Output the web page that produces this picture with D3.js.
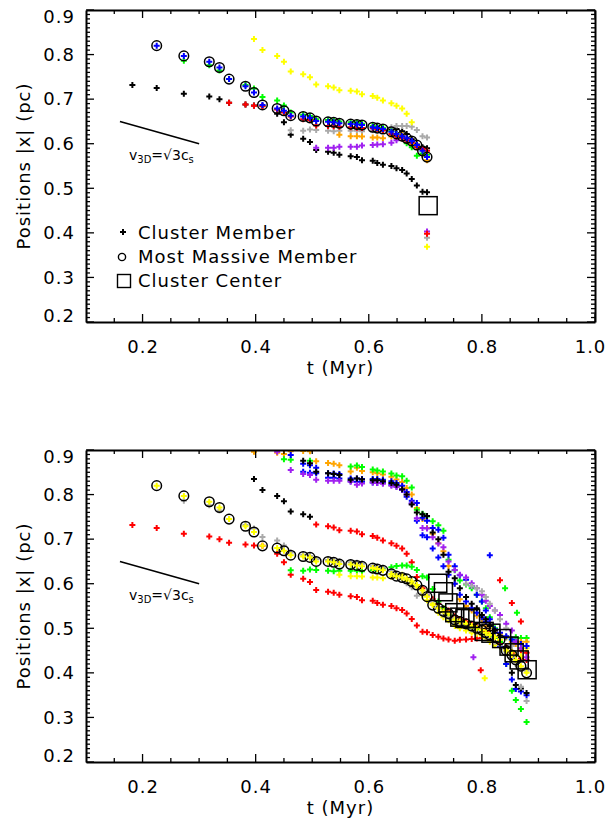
<!DOCTYPE html>
<html>
<head>
<meta charset="utf-8">
<script src="https://d3js.org/d3.v7.min.js"></script>
<style>
  body { margin: 0; background: #fff; }
  text { font-family: "DejaVu Sans", sans-serif; fill: #000; }
  .axis text { font-size: 18px; letter-spacing: 1px; }
  .axis .domain { stroke: #000; stroke-width: 2; }
  .title { font-size: 18px; letter-spacing: 1px; }
</style>
</head>
<body>
<script>
var _ = null;

// snapshot times (Myr)
var tSnap = [0.182,0.225,0.273,0.318,0.336,0.353,0.382,0.397,0.412,0.438,
             0.450,0.462,0.484,0.496,0.507,0.528,0.538,0.548,0.568,0.579,
             0.588,0.607,0.615,0.625,0.640,0.649,0.659,0.667,0.676,0.685,
             0.695,0.703,0.713,0.723,0.732,0.741,0.752,0.761,0.772,0.782,
             0.791,0.800,0.807,0.814,0.823,0.832,0.843,0.853,0.860,0.869,
             0.879];

var xTicks = [0.2, 0.4, 0.6, 0.8, 1.0];
var yTicks = [0.2, 0.3, 0.4, 0.5, 0.6, 0.7, 0.8, 0.9];

// ---- top panel |x| (pc) per member, aligned with tSnap ----
var topCircle = [_,.820,.797,.784,.771,.745,.729,.715,.687,.679,
                 .674,.663,.661,.658,.651,.649,.648,.646,.644,.643,
                 .642,.637,.635,.633,.627,.622,.617,.612,.606,.597,
                 .584,.570];
var topBlack  = [.732,.725,.712,.706,.700,.692,.688,.686,.685,.667,
                 .648,.620,.611,.604,.586,.582,.580,.575,.572,.570,
                 .563,.562,.557,.553,.550,.545,.541,.533,.521,.506,
                 .492,.491];
var topBlack2 = [_,_,_,_,_,_,_,_,_,_,
                 _,_,_,_,_,_,_,_,_,_,
                 _,_,_,.630,.632,.633,.628,.622,.610,.598,
                 .592,.590];
var topGreen  = [_,_,.786,.776,.764,.745,.732,.724,.705,.697,
                 .686,.670,.665,.662,.655,.653,.652,.650,.648,.647,
                 .645,.640,.638,.636,.628,.622,.612,.601,.592,.573,
                 .578,.575];
var topRed    = [_,_,_,_,_,.692,.688,.685,.684,.677,
                 .670,.661,.655,.653,.641,.640,.639,.638,.637,.636,
                 .635,.635,.633,.630,.622,.616,.612,.607,.603,.592,
                 .588,.584];
var topYellow = [_,_,_,_,_,_,_,.835,.810,.797,
                 .784,.762,.756,.749,.733,.729,.726,.720,.719,.717,
                 .711,.707,.703,.697,.691,.685,.679,.667,.648,_,
                 _,.369];
var topGray   = [_,_,_,_,_,_,_,_,_,_,
                 _,.630,.629,.632,.631,.629,.628,.629,.629,.629,
                 .628,.630,.632,.634,.637,.640,.640,.640,.638,.631,
                 .617,.614];
var topOrange = [_,_,_,_,_,_,_,_,_,_,
                 _,_,_,_,_,_,_,.620,.617,.617,
                 .616,.614,.614,.612,.616,.618,.620,.608,.600,.593,
                 .575,.563];
var topPurple = [_,_,_,_,_,_,_,_,_,_,
                 _,_,_,_,.591,.591,.591,.593,.593,.593,
                 .596,.597,.598,.599,.602,.608,.612,.610,.605,_,
                 _,.403];
var topStrayT = [0.703, 0.703];
var topStrayV = [0.389, 0.398];
var topStrayC = ["gray", "red"];
var topCenterT = [0.705];
var topCenterV = [0.461];

// ---- bottom panel ----
var botCircle  = [_,.820,.797,.784,.771,.745,.729,.716,.685,.680,
                  .674,.664,.661,.659,.650,.650,.648,.644,.643,.641,
                  .639,.635,.633,.630,.622,.617,.614,.611,.605,.597,
                  .585,.571,.552,.545,.538,.533,.519,.515,.510,.505,
                  .500,.496,.490,.485,.480,.474,.450,.440,.429,.415,
                  .400];
var botGray    = [_,_,.786,.776,.764,.745,.732,.724,.705,.697,
                  .686,.670,.665,.662,.655,.653,.652,.650,.648,.647,
                  .645,.640,.638,.636,.628,.622,.612,.601,.592,.573,
                  .578,.575,.560,.548,.530,.525,.522,.510,.505,.497,
                  .492,.488,.482,.478,.470,.462,.448,.435,.420,.410,
                  .405];
var botRedLow  = [.732,.725,.712,.706,.700,.692,.688,.686,.685,.667,
                  .648,.620,.611,.604,.586,.582,.580,.575,.572,.570,
                  .563,.562,.557,.553,.550,.545,.541,.533,.521,.506,
                  .492,.491,.485,.481,.477,.475,.472,.474,.475,.476,
                  .477,.478,.478,.477,.470,.465,.455,.445,.440,.432,
                  .429];
var botBlackMid = [_,_,_,_,_,_,_,.835,.810,.797,
                   .785,.762,.756,.750];
var botRedMid  = [_,_,_,_,_,_,_,_,_,_,
                  _,_,_,_,.733,.729,.726,.720,.719,.717,
                  .711,.707,.703,.697,.691,.685,.679,.667,.648,.615,
                  .590,.575,.565,.555,.545,.540,.527,.520,.515,.508,
                  .504,.497,.492,.487,.480,.470,.458,.448,.440,.450,
                  .445];
var botGreenMid = [_,_,_,_,_,_,_,_,_,_,
                   _,.630,.629,.632,.631,.629,.628,.629,.629,.629,
                   .628,.630,.632,.634,.637,.640,.641,.641,.638,.631,
                   .617,.614,.588,.560,.545,.530,.520,.515,.508,.500,
                   .498,.490,.485,.483,.478,.470,.480,.475,.480,.478,
                   .478];
var botYellowMid = [_,_,_,_,_,_,_,_,_,_,
                    _,_,_,_,_,_,_,.620,.617,.617,
                    .616,.614,.614,.612,.616,.618,.620,.608,.600,.593,
                    .575,.563,.555,.535,.525,.518,.505,.500,.495,.490,
                    .488,.484,.478,.470,.462,.458,.455,.448,.440,.437,
                    .455];
var botOrangeU = [_,_,_,_,_,_,_,.896,_,.894,
                  .891,.897,.898,.897,.875,.871,.869,.866,.852,.860,
                  .853,.850,.848,.845,.840,.834,.828,.815,.800,.770,
                  .745,.725,.712,.691,.673,.640,.600,.565,.550,.540,
                  .528,.520,.505,.500,.495,.488,.480,.470,.465,.470,
                  .470];
var botGreenU  = [_,_,_,_,_,_,_,_,_,_,
                  .879,.878,_,.876,_,_,_,_,.863,.865,
                  .862,.856,.854,.852,.847,.843,.841,.831,.816,.766,
                  .757,.751,.740,.731,.719,.654,.630,.607,.598,.590,
                  .575,.560,.545,.525,.500,.470,.420,.360,.339,.319,
                  .290];
var botBlueA   = [_,_,_,_,_,_,_,_,_,_,
                  _,.889,.869,.866,.860,.848,.847,.846,.836,.836,
                  .835,.835,.835,.833,.830,.826,.820,.806,.786,.781,
                  .748,.741,.725,.721,.703,.665,.639,.619,.609,.595,
                  .575,.560,.540,.520,.490,.460,.420,.385,.364,.358,
                  .350];
var botBlueB   = [_,_,_,_,_,_,_,_,_,_,
                  _,_,.851,.849,.848,.838,.838,.836,.830,.829,
                  .829,.827,.826,.826,.822,.818,.810,.795,.780,.741,
                  .709,.704,.679,.659,.639,.620,.600,.575,.560,.545,
                  .535,.525,.515,.505,.498,.490,.482,.475,.470,.465,
                  .460];
var botPurpleU = [_,_,_,_,_,_,_,_,_,.896,
                  _,.855,.846,.844,.833,.831,.831,.831,.829,.822,
                  .825,.827,.826,.824,.820,.817,.811,.800,.780,.747,
                  .725,.724,.704,.690,.682,.650,.631,.620,.614,.601,
                  .590,.575,.562,.550,.540,.530,.510,.495,.470,.455,
                  .435];
var botBlackU  = [_,_,_,_,_,_,_,_,_,_,
                  _,_,.876,.870,.851,.848,.846,.844,.833,.836,
                  .834,.832,.832,.830,.826,.822,.812,.800,.778,.760,
                  .756,.752,.715,.700,.665,.627,.612,.590,.570,.555,
                  .545,.530,.520,.505,.495,.480,.455,.400,.373,.365,
                  .355];
var botGrayT   = [_,_,_,_,_,_,_,_,_,_,
                  _,_,_,_,_,_,_,_,_,_,
                  _,_,_,_,_,_,_,_,_,_,
                  _,_,_,_,_,_,_,_,.600,.595,
                  .590,.583,.570,.555,.540,.520,.500,.460,.420,.369,
                  .337];
var botStrayT = [0.814, 0.832, 0.853, 0.869, 0.841, 0.862, 0.798, 0.805, 0.785];
var botStrayV = [0.664, 0.608, 0.557, 0.515, 0.590, 0.535, 0.406, 0.388, 0.435];
var botStrayC = ["blue","red","red","red","green","green","red","yellow","purple"];
var botCenterT = [0.722,0.732,0.740,0.752,0.761,0.770,0.780,0.804,0.816,0.835,0.848,0.857,0.866,0.880];
var botCenterV = [0.601,0.582,0.557,0.535,0.525,0.522,0.522,0.493,0.489,0.477,0.460,0.445,0.429,0.407];

var palette = {black:"#000000", red:"#ff0000", green:"#00ff00", blue:"#0000ff",
               yellow:"#ffff00", gray:"#aaaaaa", orange:"#ffa500", purple:"#a020f0"};

var width = 612, height = 823;
var x = d3.scaleLinear().domain([0.1, 1.0]).range([86, 595]);
var plus = d3.symbol(d3.symbolCross, 20);

var svg = d3.select("body").append("svg")
  .attr("width", width).attr("height", height);

function points(vals) {
  var out = [];
  vals.forEach(function(v, i) { if (v !== null) out.push({t: tSnap[i], v: v}); });
  return out;
}

function drawPanel(id, top, bottom, tracks, circles, circleColor, strayT, strayV, strayC, cT, cV, legend) {
  var y = d3.scaleLinear().domain([0.2, 0.9]).range([bottom, top]);
  var g = svg.append("g");

  g.append("clipPath").attr("id", id)
    .append("rect").attr("x", x(0.1)).attr("y", y(0.9))
    .attr("width", x(1.0) - x(0.1)).attr("height", y(0.2) - y(0.9));

  var pg = g.append("g").attr("clip-path", "url(#" + id + ")");

  tracks.forEach(function(tr) {
    pg.selectAll(null).data(points(tr[1])).enter().append("path")
      .attr("d", plus)
      .attr("transform", function(d) { return "translate(" + x(d.t) + "," + y(d.v) + ")"; })
      .attr("fill", palette[tr[0]]);
  });

  pg.selectAll(null).data(strayT.map(function(t, i) { return {t: t, v: strayV[i], c: strayC[i]}; }))
    .enter().append("path")
    .attr("d", plus)
    .attr("transform", function(d) { return "translate(" + x(d.t) + "," + y(d.v) + ")"; })
    .attr("fill", function(d) { return palette[d.c]; });

  // most massive member
  pg.selectAll(null).data(points(circles)).enter().append("circle")
    .attr("cx", function(d) { return x(d.t); })
    .attr("cy", function(d) { return y(d.v); })
    .attr("r", 4.8)
    .attr("fill", "none").attr("stroke", "#000").attr("stroke-width", 1.5);
  pg.selectAll(null).data(points(circles)).enter().append("path")
    .attr("d", plus)
    .attr("transform", function(d) { return "translate(" + x(d.t) + "," + y(d.v) + ")"; })
    .attr("fill", palette[circleColor]);

  // cluster center
  pg.selectAll(null).data(cT.map(function(t, i) { return {t: t, v: cV[i]}; }))
    .enter().append("rect")
    .attr("x", function(d) { return x(d.t) - 9; })
    .attr("y", function(d) { return y(d.v) - 9; })
    .attr("width", 18).attr("height", 18)
    .attr("fill", "none").attr("stroke", "#000").attr("stroke-width", 1.5);

  // v_3D = sqrt(3) c_s reference slope
  g.append("line")
    .attr("x1", x(0.16)).attr("y1", y(0.65))
    .attr("x2", x(0.30)).attr("y2", y(0.60))
    .attr("stroke", "#000").attr("stroke-width", 1.6);
  var lab = g.append("text").attr("x", x(0.176)).attr("y", y(0.5635))
    .style("font-size", "14px");
  lab.append("tspan").text("v");
  lab.append("tspan").attr("dy", 3).style("font-size", "10px").text("3D");
  lab.append("tspan").attr("dy", -3).text("=\u221A3c");
  lab.append("tspan").attr("dy", 3).style("font-size", "10px").text("s");

  // tick marks pointing inward on all four sides
  var xMinor = d3.range(3, 20).map(function(i) { return i * 0.05; })
    .filter(function(v) { return Math.abs(v * 5 - Math.round(v * 5)) > 1e-6; });
  var yMinor = d3.range(20, 91).map(function(i) { return i / 100; })
    .filter(function(v) { return Math.abs(v * 10 - Math.round(v * 10)) > 1e-6; });
  var xt = xTicks.map(function(v) { return {v: v, len: 8}; })
    .concat(xMinor.map(function(v) { return {v: v, len: 4}; }));
  var yt = yTicks.map(function(v) { return {v: v, len: 8}; })
    .concat(yMinor.map(function(v) { return {v: v, len: 4}; }));
  var tk = g.append("g").attr("stroke", "#000").attr("stroke-width", 1.3);
  [bottom, top].forEach(function(y0) {
    var dir = y0 === bottom ? -1 : 1;
    tk.selectAll(null).data(xt).enter().append("line")
      .attr("x1", function(d) { return x(d.v); }).attr("x2", function(d) { return x(d.v); })
      .attr("y1", y0).attr("y2", function(d) { return y0 + dir * d.len; });
  });
  [x(0.1), x(1.0)].forEach(function(x0) {
    var dir = x0 === x(0.1) ? 1 : -1;
    tk.selectAll(null).data(yt).enter().append("line")
      .attr("y1", function(d) { return y(d.v); }).attr("y2", function(d) { return y(d.v); })
      .attr("x1", x0).attr("x2", function(d) { return x0 + dir * d.len; });
  });

  // frame and labels from d3 axes
  var ax = g.append("g").attr("class", "axis");
  ax.append("g").attr("transform", "translate(0," + bottom + ")")
    .call(d3.axisBottom(x).tickValues(xTicks).tickSize(0)
      .tickPadding(18).tickFormat(d3.format(".1f")))
    .selectAll(".tick text").filter(function(d) { return d === 1.0; })
    .attr("dx", -5);
  ax.append("g").attr("transform", "translate(0," + top + ")")
    .call(d3.axisTop(x).tickValues([]).tickSize(0));
  var yl = ax.append("g").attr("transform", "translate(" + x(0.1) + ",0)")
    .call(d3.axisLeft(y).tickValues(yTicks).tickSize(0)
      .tickPadding(11).tickFormat(d3.format(".1f")));
  yl.selectAll(".tick text").filter(function(d) { return d === 0.9; }).attr("dy", "0.72em");
  yl.selectAll(".tick text").filter(function(d) { return d === 0.2; }).attr("dy", "-0.02em");
  ax.append("g").attr("transform", "translate(" + x(1.0) + ",0)")
    .call(d3.axisRight(y).tickValues([]).tickSize(0));

  g.append("text").attr("class", "title")
    .attr("x", (x(0.1) + x(1.0)) / 2).attr("y", bottom + 52)
    .attr("text-anchor", "middle").text("t  (Myr)");
  g.append("text").attr("class", "title")
    .attr("transform", "translate(30," + (top + bottom) / 2 + ") rotate(-90)")
    .attr("text-anchor", "middle").text("Positions |x| (pc)");

  if (legend) {
    var lg = g.append("g");
    var items = ["Cluster Member", "Most Massive Member", "Cluster Center"];
    items.forEach(function(s, i) {
      lg.append("text").attr("class", "title").attr("x", 138).attr("y", 239 + i * 24).text(s);
    });
    lg.append("path").attr("d", plus).attr("transform", "translate(123,232)").attr("fill", "#000");
    lg.append("circle").attr("cx", 122).attr("cy", 257).attr("r", 3.6)
      .attr("fill", "none").attr("stroke", "#000").attr("stroke-width", 1.4);
    lg.append("rect").attr("x", 117.5).attr("y", 274.5).attr("width", 13).attr("height", 13)
      .attr("fill", "none").attr("stroke", "#000").attr("stroke-width", 1.4);
  }
}

drawPanel("clipTop", 10, 322,
  [["black", topBlack], ["black", topBlack2], ["gray", topGray], ["orange", topOrange],
   ["purple", topPurple], ["yellow", topYellow], ["green", topGreen], ["red", topRed]],
  topCircle, "blue", topStrayT, topStrayV, topStrayC, topCenterT, topCenterV, true);

drawPanel("clipBot", 450, 762,
  [["red", botRedLow], ["black", botBlackMid], ["red", botRedMid], ["green", botGreenMid],
   ["yellow", botYellowMid], ["orange", botOrangeU], ["green", botGreenU], ["blue", botBlueA],
   ["blue", botBlueB], ["purple", botPurpleU], ["black", botBlackU], ["gray", botGrayT],
   ["gray", botGray]],
  botCircle, "yellow", botStrayT, botStrayV, botStrayC, botCenterT, botCenterV, false);
</script>
</body>
</html>
